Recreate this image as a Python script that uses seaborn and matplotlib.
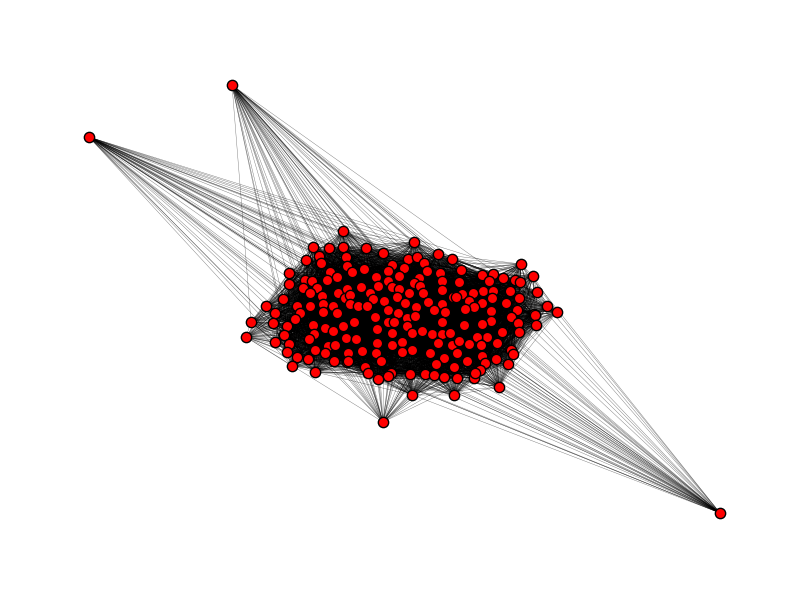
import numpy as np
import pandas as pd
import matplotlib
matplotlib.use("Agg")
import matplotlib.pyplot as plt
import seaborn as sns
from matplotlib.collections import LineCollection

# node positions (pixel units, y downwards)
hub_x = [232, 89, 383, 720]
hub_y = [85, 137, 422, 513]

node_x = [343, 313, 329, 343, 306, 319, 321, 346, 347, 330, 289, 337, 305, 312, 289, 327, 303, 317,
          310, 338, 347, 283, 322, 266, 297, 310, 323, 333, 345, 275, 300, 323, 337,
          414, 366, 383, 438, 452, 408, 417, 392, 424, 404, 364, 352, 388, 427, 440, 399, 376, 419,
          442, 388, 378, 414, 361, 392, 420, 399, 442, 370, 423, 350, 397, 409, 373, 384, 405, 416,
          428, 442, 453, 350, 358, 367, 388, 398, 434, 445,
          521, 461, 533, 482, 493, 503, 489, 515, 520, 459, 537, 510, 483, 473, 493, 462, 456, 492,
          519, 469, 506, 482, 474, 465, 547, 517, 491, 534, 557,
          251, 273, 287, 295, 313, 325, 343, 284, 314, 333, 246, 275, 289, 309, 328, 335, 346, 287,
          315, 325, 297, 308, 334, 347, 292, 315,
          354, 375, 388, 398, 407, 415, 394, 407, 377, 392, 412, 422, 432, 442, 450, 442, 356, 377,
          392, 402, 412, 402, 438, 452, 362, 376, 348, 348, 430, 444, 381, 436, 365, 454, 368, 391,
          410, 425, 434, 388, 378, 444, 412,
          535, 511, 536, 518, 491, 482, 464, 502, 519, 487, 477, 497, 459, 469, 481, 511, 513, 457,
          482, 496, 467, 485, 508, 480, 457, 474, 475, 499, 454]
node_y = [231, 247, 248, 247, 260, 256, 263, 257, 266, 272, 273, 277, 280, 281, 284, 280, 288, 288,
          293, 293, 289, 299, 296, 306, 306, 306, 304, 306, 298, 313, 313, 312, 313,
          242, 248, 253, 254, 259, 259, 257, 265, 263, 268, 269, 272, 271, 271, 273, 276, 277, 278,
          281, 281, 286, 283, 287, 287, 286, 289, 290, 293, 293, 295, 297, 293, 299, 301, 303, 307,
          302, 304, 297, 304, 306, 306, 310, 312, 310, 312,
          264, 270, 276, 275, 274, 278, 281, 280, 282, 282, 292, 291, 291, 293, 291, 294, 297, 298,
          298, 301, 303, 303, 307, 309, 306, 310, 311, 314, 312,
          322, 323, 326, 319, 325, 328, 326, 335, 334, 331, 337, 342, 344, 339, 346, 345, 338, 352,
          350, 353, 357, 359, 361, 362, 366, 372,
          322, 317, 322, 313, 318, 316, 322, 326, 329, 333, 333, 331, 334, 334, 333, 322, 339, 343,
          345, 342, 350, 352, 343, 345, 351, 353, 353, 361, 353, 358, 361, 364, 367, 367, 373, 373,
          374, 374, 375, 376, 379, 377, 395,
          315, 317, 325, 323, 321, 324, 325, 332, 332, 337, 337, 343, 341, 344, 345, 350, 354, 353,
          356, 359, 361, 363, 364, 370, 378, 378, 373, 387, 395]

pts = np.column_stack([node_x, node_y]).astype(float)
hubs = np.column_stack([hub_x, hub_y]).astype(float)

# edges: neighbours inside the cluster, each hub tied to every 4th cluster node
d = np.hypot(pts[:, None, 0] - pts[None, :, 0], pts[:, None, 1] - pts[None, :, 1])
ii, jj = np.where(np.triu(d < 100, k=1))
segs = [(pts[i], pts[j]) for i, j in zip(ii, jj)]
for k, h in enumerate(hubs):
    segs += [(h, p) for p in pts[k::4]]

nodes = pd.DataFrame({"x": list(node_x) + hub_x, "y": list(node_y) + hub_y})

sns.set_style("white")
fig = plt.figure(figsize=(8, 6), dpi=100)
ax = fig.add_axes([0, 0, 1, 1])
ax.add_collection(LineCollection(segs, colors="black", linewidths=0.3, alpha=0.55, zorder=1))
sns.scatterplot(data=nodes, x="x", y="y", ax=ax, color="red", edgecolor="black",
                linewidth=1.0, s=55, zorder=2, legend=False)
ax.set_xlim(0, 800)
ax.set_ylim(600, 0)
ax.axis("off")
fig.savefig("out.png", dpi=100)
